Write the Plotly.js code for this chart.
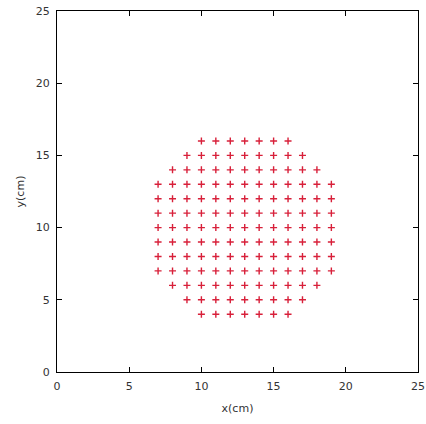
<!DOCTYPE html>
<html>
<head>
<script src="https://cdn.plot.ly/plotly-3.0.1.min.js"></script>
<style>body{margin:0;padding:0;background:#fff}#chart{width:426px;height:424px}</style>
</head>
<body>
<div id="chart"></div>
<script>
// Grid points, one row per y value
const rowY = [16, 15, 14, 13, 12, 11, 10, 9, 8, 7, 6, 5, 4];
const rowX = [
  [10, 11, 12, 13, 14, 15, 16],
  [9, 10, 11, 12, 13, 14, 15, 16, 17],
  [8, 9, 10, 11, 12, 13, 14, 15, 16, 17, 18],
  [7, 8, 9, 10, 11, 12, 13, 14, 15, 16, 17, 18, 19],
  [7, 8, 9, 10, 11, 12, 13, 14, 15, 16, 17, 18, 19],
  [7, 8, 9, 10, 11, 12, 13, 14, 15, 16, 17, 18, 19],
  [7, 8, 9, 10, 11, 12, 13, 14, 15, 16, 17, 18, 19],
  [7, 8, 9, 10, 11, 12, 13, 14, 15, 16, 17, 18, 19],
  [7, 8, 9, 10, 11, 12, 13, 14, 15, 16, 17, 18, 19],
  [7, 8, 9, 10, 11, 12, 13, 14, 15, 16, 17, 18, 19],
  [8, 9, 10, 11, 12, 13, 14, 15, 16, 17, 18],
  [9, 10, 11, 12, 13, 14, 15, 16, 17],
  [10, 11, 12, 13, 14, 15, 16]
];
const tickVals = [0, 5, 10, 15, 20, 25];

const xs = [], ys = [];
rowY.forEach((y, i) => rowX[i].forEach(x => { xs.push(x); ys.push(y); }));

const axisCommon = {
  range: [0, 25],
  tickvals: tickVals,
  ticktext: tickVals.map(String),
  ticks: 'inside',
  ticklen: 5,
  tickwidth: 1,
  tickcolor: '#000',
  showline: true,
  linecolor: '#000',
  linewidth: 1,
  mirror: 'ticks',
  showgrid: false,
  zeroline: false,
  tickfont: {family: 'DejaVu Sans', size: 11, color: '#333'}
};

Plotly.newPlot('chart', [{
  x: xs, y: ys,
  type: 'scatter', mode: 'markers',
  marker: {symbol: 'cross-thin-open', size: 5, color: '#d8203a', line: {color: '#d8203a', width: 1.4}},
  hoverinfo: 'none'
}], {
  width: 426, height: 424,
  margin: {l: 57, r: 8, t: 11, b: 52},
  paper_bgcolor: '#fff', plot_bgcolor: '#fff',
  showlegend: false,
  xaxis: Object.assign({}, axisCommon, {ticklabelstandoff: 4, title: {text: 'x(cm)', font: {family: 'DejaVu Sans', size: 11, color: '#333'}, standoff: 12}}),
  yaxis: Object.assign({}, axisCommon, {ticklabelstandoff: 4, title: {text: 'y(cm)', font: {family: 'DejaVu Sans', size: 11, color: '#333'}, standoff: 8}})
}, {staticPlot: true});
</script>
</body>
</html>
